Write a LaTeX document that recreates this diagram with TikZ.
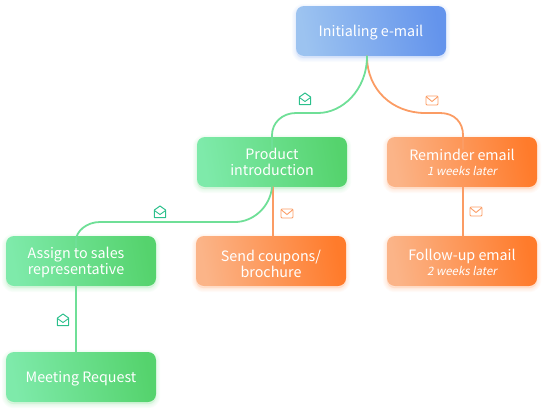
\documentclass[tikz,border=0pt]{standalone}
\usepackage{fontspec}
\setmainfont[AutoFakeSlant=0.2]{Noto Sans CJK SC}
\usetikzlibrary{backgrounds}
\definecolor{blueA}{HTML}{9CC3F0}
\definecolor{blueB}{HTML}{6494EC}
\definecolor{greenA}{HTML}{7EEAAA}
\definecolor{greenB}{HTML}{55D36D}
\definecolor{orangeA}{HTML}{FBB488}
\definecolor{orangeB}{HTML}{FF7B2B}
\definecolor{greenLine}{HTML}{6FDF97}
\definecolor{orangeLine}{HTML}{FB9C64}
\definecolor{iconGreen}{HTML}{2CC08C}
\definecolor{iconOrange}{HTML}{FB9C64}
\newcommand{\latertext}[1]{{\fontsize{11.5}{14}\selectfont\itshape #1}}
\newcommand{\lowtext}[2]{\raisebox{#1}[0pt][0pt]{\parbox{150pt}{\centering #2}}}
\tikzset{
  box/.style={rectangle,rounded corners=8pt,minimum width=150pt,minimum height=50pt,inner sep=0pt,
    text=white,align=center,font=\fontsize{14.3}{16}\selectfont},
  bluebox/.style={box,left color=blueA,right color=blueB,shading angle=100},
  greenbox/.style={box,left color=greenA,right color=greenB,shading angle=100},
  orangebox/.style={box,left color=orangeA,right color=orangeB,shading angle=100},
  link/.style={line width=1.8pt,line cap=round},
  glink/.style={link,draw=greenLine},
  olink/.style={link,draw=orangeLine},
  envclosed/.pic={
    \draw[iconOrange,line width=.9pt,rounded corners=1pt] (-6,-4.5) rectangle (6,4.5);
    \draw[iconOrange,line width=.9pt] (-5.5,-3.5) -- (0,1) -- (5.5,-3.5);
  },
  envopen/.pic={
    \draw[iconGreen,line width=1pt,line join=round] (-5.6,-2) -- (0,-6) -- (5.6,-2) -- (5.6,5.6) -- (-5.6,5.6) -- cycle;
    \draw[iconGreen,line width=.9pt,line join=round] (-5.6,-1.5) -- (0,2.5) -- (5.6,-1.5);
  },
}
\begin{document}
\begin{tikzpicture}[x=1pt,y=-1pt]
\useasboundingbox (0,0) rectangle (543,410);
\node[bluebox] (init) at (371,31) {\lowtext{-5pt}{Initialing e-mail}};
\node[greenbox] (prod) at (272,162) {\lowtext{-3.5pt}{Product\\introduction}};
\node[orangebox] (rem) at (462,162) {\lowtext{-4pt}{Reminder email\\[-1pt]\latertext{1 weeks later}}};
\node[greenbox] (assign) at (81,261) {\lowtext{-5.5pt}{\hspace*{-10pt}Assign to sales\\\hspace*{-10pt}representative}};
\node[orangebox] (send) at (271,261) {\lowtext{-6pt}{Send coupons/\\brochure}};
\node[orangebox] (follow) at (462,261) {\lowtext{-5pt}{Follow-up email\\[-1pt]\latertext{2 weeks later}}};
\node[greenbox] (meet) at (81,377) {\lowtext{-5.5pt}{Meeting Request}};
\begin{scope}[on background layer]
\foreach \n/\c in {init/blueB,prod/greenB,rem/orangeB,assign/greenB,send/orangeB,follow/orangeB,meet/greenB}
  \foreach \w in {2,4,6,8}
    \draw[\c,line width=\w pt,opacity=.035,rounded corners=8pt,fill=\c,fill opacity=.035]
      ([yshift=-2pt]\n.south west) rectangle ([yshift=-2pt]\n.north east);
\end{scope}
\draw[olink] ([xshift=-4pt]init.south) .. controls +(0,34) and +(-32,0) .. (425,113) -- (440,113)
  .. controls (455,113) and (463,123) .. (463,135) -- ([yshift=13pt,xshift=1pt]rem.center);
\draw[glink] ([xshift=-4pt]init.south) .. controls +(0,34) and +(24,0) .. (318,113) -- (296,113)
  .. controls (282,113) and (272,123) .. (272,135) -- ([yshift=13pt]prod.center);
\draw[olink] ([xshift=1pt]prod.south) -- ([xshift=2pt]send.north);
\draw[glink] (prod.south) .. controls +(-2,20) and +(18,0) .. (235,222) -- (100,222)
  .. controls (86,222) and (76,232) .. (76,240) -- ([xshift=-5pt,yshift=14pt]assign.center);
\draw[glink] ([xshift=-5pt]assign.south) -- ([xshift=-5pt]meet.north);
\draw[olink] ([xshift=1pt]rem.south) -- ([xshift=1pt]follow.north);
\pic at (305,99) {envopen};
\pic at (160,212) {envopen};
\pic at (63,320) {envopen};
\pic at (432,100.5) {envclosed};
\pic at (287,213.5) {envclosed};
\pic at (476,211.5) {envclosed};
\end{tikzpicture}
\end{document}
